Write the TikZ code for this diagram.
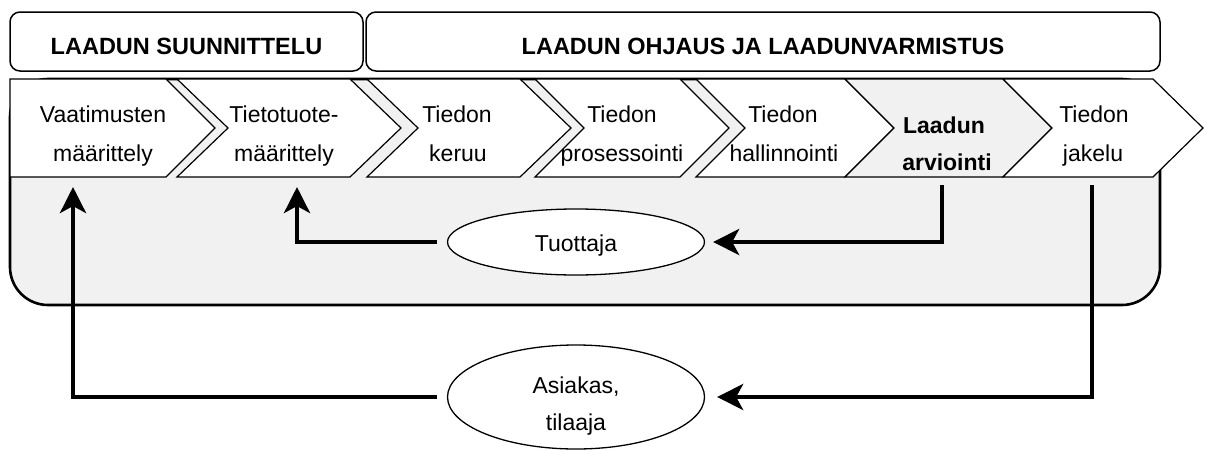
\documentclass[tikz,border=0pt]{standalone}
\usepackage{fontspec}
\setmainfont{Liberation Sans}
\usetikzlibrary{shapes.geometric,arrows.meta}
\definecolor{bgc}{RGB}{241,241,241}
\begin{document}
\begin{tikzpicture}[x=1pt,y=-1pt,
  txt/.style={font=\fontsize{23}{27}\selectfont, anchor=base, inner sep=0pt},
  btxt/.style={font=\fontsize{23}{27}\selectfont\bfseries, anchor=base, inner sep=0pt},
  head/.style={font=\fontsize{23.5}{27}\selectfont\bfseries, anchor=base, inner sep=0pt},
  topbox/.style={draw=black, line width=1.5pt, rounded corners=10pt, fill=white},
  cont/.style={draw=black, line width=2.6pt, rounded corners=38pt, fill=bgc},
  chev/.style={draw=black, line width=1.2pt, fill=white, line join=miter},
  chevg/.style={chev, fill=bgc},
  ell/.style={ellipse, draw=black, line width=1.3pt, fill=white, inner sep=0pt, minimum width=257pt},
  fb/.style={line width=4.5pt, draw=black, -{Stealth[length=26pt,width=26pt,inset=7pt]}}
]
\useasboundingbox (0,0) rectangle (1208,450);

% top boxes
\draw[topbox] (10,12) rectangle (363,71);
\draw[topbox] (366,12) rectangle (1160,71);
\node[head] (h1) at (186.5,54) {LAADUN SUUNNITTELU};
\node[head] (h2) at (763,54) {LAADUN OHJAUS JA LAADUNVARMISTUS};

% container
\draw[cont] (10,79) rectangle (1160,305);

% chevrons
\draw[chev] (10,79) -- (166,79) -- (215,128) -- (166,177) -- (10,177) -- cycle;
\draw[chev] (177,79) -- (350,79) -- (401,128) -- (350,177) -- (177,177) -- (228,128) -- cycle;
\draw[chev] (367,79) -- (520,79) -- (571,128) -- (520,177) -- (367,177) -- (418,128) -- cycle;
\draw[chev] (535,79) -- (680,79) -- (729,128) -- (680,177) -- (535,177) -- (584,128) -- cycle;
\draw[chev] (696,79) -- (845,79) -- (894,128) -- (845,177) -- (696,177) -- (745,128) -- cycle;
\draw[chevg] (845,79) -- (1003,79) -- (1052,128) -- (1003,177) -- (845,177) -- (894,128) -- cycle;
\draw[chev] (1003,79) -- (1153,79) -- (1203,128) -- (1153,177) -- (1003,177) -- (1052,128) -- cycle;

% chevron texts
\node[txt] (c1a) at (103,122) {Vaatimusten};
\node[txt] (c1b) at (103,161) {määrittely};
\node[txt] (c2a) at (284,122) {Tietotuote-};
\node[txt] (c2b) at (284,161) {määrittely};
\node[txt] (c3a) at (457,122) {Tiedon};
\node[txt] (c3b) at (458,161) {keruu};
\node[txt] (c4a) at (622,122) {Tiedon};
\node[txt] (c4b) at (622,161) {prosessointi};
\node[txt] (c5a) at (783,122) {Tiedon};
\node[txt] (c5b) at (784,161) {hallinnointi};
\node[btxt] (c6a) at (944,133) {Laadun};
\node[btxt] (c6b) at (947,170) {arviointi};
\node[txt] (c7a) at (1094,122) {Tiedon};
\node[txt] (c7b) at (1093,161) {jakelu};

% chevron bottom anchors
\coordinate (p1) at (73,177);
\coordinate (p2) at (297,177);
\coordinate (p6) at (942,177);
\coordinate (p7) at (1092,177);

% ellipses
\node[ell, minimum height=66pt] (tuot) at (576,242) {};
\node[txt] (tuotL) at (576,251) {Tuottaja};
\node[ell, minimum height=104pt] (asiak) at (576,397) {};
\node[txt] (asiakL1) at (576,393) {Asiakas,};
\node[txt] (asiakL2) at (576,430) {tilaaja};

% feedback arrows
\draw[fb, shorten <=8pt, shorten >=8pt] (p6) |- (tuot.east);
\draw[fb, shorten <=10pt, shorten >=10pt] (tuot.west) -| (p2);
\draw[fb, shorten <=8pt, shorten >=12pt] (p7) |- (asiak.east);
\draw[fb, shorten <=10pt, shorten >=10pt] (asiak.west) -| (p1);
\end{tikzpicture}
\end{document}
